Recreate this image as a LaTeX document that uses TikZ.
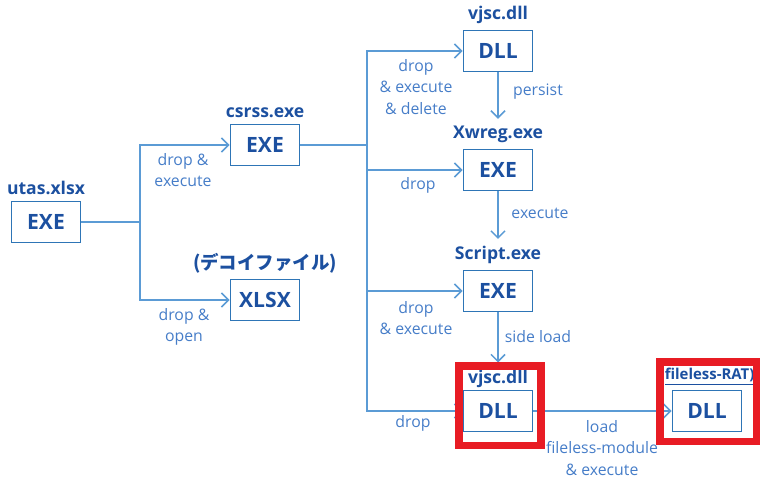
\documentclass[tikz,border=0pt]{standalone}
\usepackage{fontspec}
\setmainfont{Open Sans}
\newfontfamily\jpfont{Noto Sans CJK JP}
\usetikzlibrary{arrows.meta, positioning}
\definecolor{boxblue}{RGB}{46,117,182}
\definecolor{txtblue}{RGB}{28,80,160}
\definecolor{lineblue}{RGB}{91,155,213}
\definecolor{lblblue}{RGB}{70,125,200}
\definecolor{alertred}{RGB}{232,28,36}
\tikzset{
  box/.style={rectangle, draw=boxblue, line width=1.1pt, minimum width=1.38cm,
              minimum height=0.82cm, text=txtblue,
              font=\bfseries\fontsize{12}{14}\selectfont},
  fname/.style={text=txtblue, inner sep=1pt, font=\bfseries\fontsize{10}{12}\selectfont},
  lbl/.style={text=lblblue, align=center, inner sep=1pt,
              font=\fontsize{9}{12}\selectfont},
  wire/.style={draw=lineblue, line width=0.85pt},
  arc/.style={wire, -{Straight Barb[length=4pt, width=8pt]}},
  alert/.style={draw=alertred, line width=4pt}
}
\begin{document}
\begin{tikzpicture}[x=0.02cm, y=-0.02cm]
  \useasboundingbox (0,0) rectangle (760,478);
  % files
  \node[box] (utas)   at (46,222)  {EXE};
  \node[box] (csrss)  at (265,145) {EXE};
  \node[box] (decoy)  at (265,300) {XLSX};
  \node[box] (vjsca)  at (498,51)  {DLL};
  \node[box] (xwreg)  at (498,170) {EXE};
  \node[box] (script) at (498,291) {EXE};
  \node[box] (vjscb)  at (498,411) {DLL};
  \node[box] (rat)    at (707,411) {DLL};
  % file names
  \node[fname, above=2pt of utas]   (utasn)   {utas.xlsx};
  \node[fname, above=2pt of csrss]  (csrssn)  {csrss.exe};
  \node[fname, above=2pt of decoy, font=\jpfont\bfseries\fontsize{10.5}{12}\selectfont]
       (decoyn) {(デコイファイル)};
  \node[fname, above=2pt of vjsca]  (vjscan)  {vjsc.dll};
  \node[fname, above=2pt of xwreg]  (xwregn)  {Xwreg.exe};
  \node[fname, above=2pt of script] (scriptn) {Script.exe};
  \node[fname, above=0pt of vjscb]  (vjscbn)  {vjsc.dll};
  \node[fname, above=1pt of rat, xshift=1.5pt, font=\bfseries\fontsize{8.5}{10}\selectfont]
       (ratn) {\underline{fileless-RAT)}};
  % connectors
  \coordinate (forka) at (140,222);
  \coordinate (forkb) at (367,145);
  \draw[wire] (utas) -- (forka);
  \draw[arc] (forka) |- (csrss);
  \draw[arc] (forka) |- (decoy);
  \draw[wire] (csrss) -- (forkb);
  \foreach \t in {vjsca, xwreg, script, vjscb} \draw[arc] (forkb) |- (\t);
  \foreach \a/\b in {vjsca/xwregn, xwreg/scriptn, script/vjscbn}
    \draw[arc, shorten >=3pt] (\a) -- (\b);
  \draw[arc] (vjscb) -- (rat);
  % labels
  \node[lbl] (l1) at (183,170) {drop \&\\execute};
  \node[lbl] (l2) at (184,327) {drop \&\\open};
  \node[lbl] (l3) at (416,87)  {drop\\\& execute\\\& delete};
  \node[lbl] (l4) at (418,185) {drop};
  \node[lbl] (l5) at (416,318) {drop\\\& execute};
  \node[lbl] (l6) at (413,423) {drop};
  \node[lbl] (l7) at (538,92)  {persist};
  \node[lbl] (l8) at (540,213) {execute};
  \node[lbl] (l9) at (538,337) {side load};
  \node[lbl] (l10) at (602,448) {load\\fileless-module\\\& execute};
  % highlights
  \draw[alert] (459,366) rectangle (541,445);
  \draw[alert] (660,362) rectangle (757,441);
\end{tikzpicture}
\end{document}
